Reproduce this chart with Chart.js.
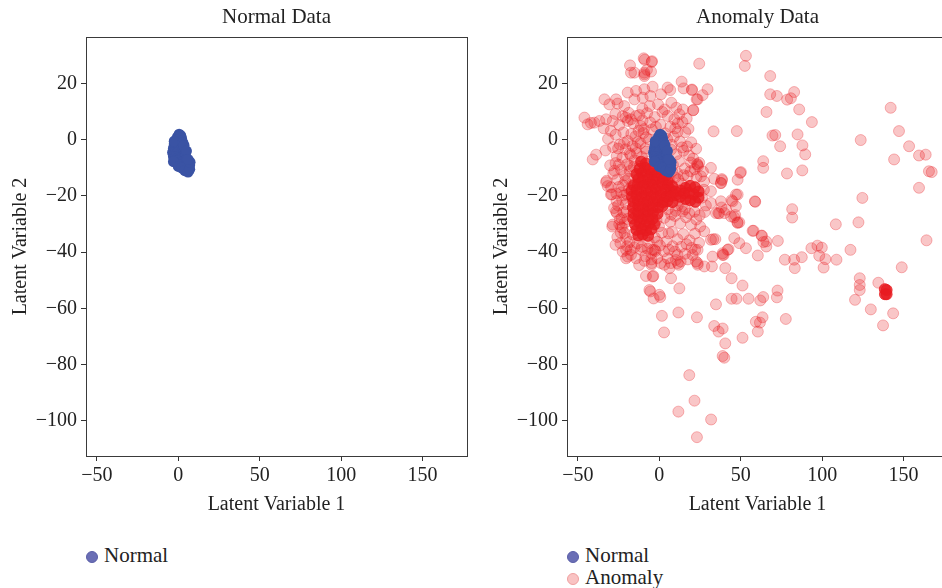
<!DOCTYPE html>
<html>
<head>
<meta charset="utf-8">
<script src="https://cdn.jsdelivr.net/npm/chart.js@4.4.1/dist/chart.umd.min.js"></script>
<style>
  html, body { margin: 0; padding: 0; background: #fff; width: 942px; height: 588px; overflow: hidden; }
  .panel { position: absolute; top: 0; width: 480px; height: 530px; }
  .legend { position: absolute; font-family: "Liberation Serif", "Times New Roman", serif; font-size: 21px; color: #222; }
  .legend div { height: 22px; line-height: 22px; white-space: nowrap; }
  .legend span.dot { display: inline-block; width: 10px; height: 10px; border-radius: 50%; margin-right: 6px; vertical-align: -1px; }
</style>
</head>
<body>
<div class="panel" style="left:0px"><canvas id="chartNormal" width="480" height="530"></canvas></div>
<div class="panel" style="left:481px"><canvas id="chartAnomaly" width="480" height="530"></canvas></div>

<div class="legend" style="left:86px; top:544px">
  <div><span class="dot" style="background:#6a6eb5;border:1px solid #5a5ea8"></span>Normal</div>
</div>
<div class="legend" style="left:567px; top:544px">
  <div><span class="dot" style="background:#6a6eb5;border:1px solid #5a5ea8"></span>Normal</div>
  <div><span class="dot" style="background:#f9c3c3;border:1px solid #f0a0a0"></span>Anomaly</div>
</div>

<script>
// axis ranges and tick labels
const xRange = [-56.7, 177.3];
const yRange = [-112.6, 36.6];
const xTickValues = [-50, 0, 50, 100, 150];
const yTickValues = [-100, -80, -60, -40, -20, 0, 20];

// normal samples (latent space), same cluster in both panels
const normalPoints = [
  [0.5,2],[1.5,1.5],[-0.5,1],[2,0.5],[-1.5,0],[0,0],[1.5,-0.5],[-2.5,-1.5],[-1,-1.5],[0.5,-1.5],
  [2,-2],[-3,-3],[-1.5,-3],[0,-3],[1.5,-3.5],[3,-3.5],[-3.5,-4.5],[-2,-4.5],[-0.5,-4.5],[1,-5],
  [2.5,-5],[4,-5],[-3,-6],[-1.5,-6],[0,-6.5],[1.5,-6.5],[3,-6.5],[4.5,-6],[-2,-7.5],[-0.5,-7.5],
  [1,-8],[2.5,-8],[4,-8],[5.5,-8],[3,-9],[4.5,-9.5],[6,-9.5],[7,-9],[5,-10.5],[6.5,-10.5],[1,-9],
  [-2.5,-0.5],[2.8,-1],[3.5,-2],[5,-4],[5.2,-7],[-3,-7.8],[0,-9.5],[2,-10],[4,-11],[6,-11.5],
  [7,-10.5],[7.2,-8],[6,-7]
];

// anomaly samples, scattered part
const anomalyPoints = [
  [53.2,29.9],[52.5,26.3],[24.5,27.1],[-9.6,29.0],[-9.0,28.5],[-4.5,28.0],[-18,26.5],[-17.4,23.9],[-9.2,23.9],
  [-5.1,24.3],[-9.2,22.7],[-7.6,24.9],[-15.3,23.9],[-4.7,27.7],[-9.2,23.3],
  [68.1,22.7],[68.1,16.2],[72.2,15.6],[82.8,17.0],[78.5,14.3],[80.8,14.8],[85.9,10.8],[93.7,6.3],[65.8,9.9],
  [142.1,11.4],[147.2,3.1],[153.4,-2.3],[123.7,-0.1],[144.2,-7.0],[159.5,-5.6],[163.6,-5.3],[165.6,-11.2],
  [167.3,-11.5],[159.5,-17.1],[124.7,-20.7],[122.3,-29.4],[108.4,-30.1],[164.1,-35.8],
  [33.3,3.0],[47.6,3.1],[69.5,1.5],[71.2,1.7],[84.9,1.9],[87.9,-2.0],[89.6,-5.2],[74.2,-2.3],[63.8,-7.6],
  [63.8,-10.0],[78.4,-12.0],[87.8,-10.9],[50.1,-11.5],
  [58.7,-21.9],[81.6,-24.7],[81.6,-27.7],[47.1,-19.5],[44.4,-21.5],[41.0,-24.9],[36.8,-26.2],[46.6,-26.8],
  [49.1,-29.4],[57.9,-32.4],[63.0,-34.2],[65.7,-36.2],[72.8,-36.0],[65.7,-38.0],[53.2,-38.6],[46.0,-35.0],
  [42.5,-39.0],[39.5,-41.0],[34.4,-35.4],
  [99.8,-38.4],[97.1,-37.7],[102.0,-42.5],[108.8,-42.7],[117.4,-39.2],[87.5,-41.8],[82.8,-42.7],[100.9,-45.5],
  [98.2,-41.3],[93.4,-38.6],[77.1,-42.7],[83.2,-45.7],
  [148.9,-45.4],[123.1,-49.3],[123.1,-51.7],[123.1,-53.5],[134.5,-50.9],[120.2,-57.0],[129.9,-60.4],
  [143.6,-61.8],[137.4,-66.1],
  [72.6,-53.7],[72.2,-56.1],[77.7,-63.8],[63.8,-56.0],[62.0,-57.2],[54.8,-56.6],[47.4,-56.6],[44.4,-56.6],
  [51.1,-51.9],[44.4,-49.3],[40.5,-45.7],[32.3,-45.1],[34.8,-58.6],[63.4,-63.2],[59.3,-64.8],[61.8,-65.1],
  [60.5,-68.3],[51.1,-70.5],[33.7,-66.3],[38.9,-67.2],[36.4,-68.3],[40.5,-72.5],[38.9,-77.0],[39.9,-77.6],
  [23.1,-63.2],[11.7,-61.5],[1.6,-62.7],[2.9,-68.6],[12.3,-52.9],[-5.5,-54.0],[-3.5,-56.5],[0.6,-56.0],
  [-8.2,-48.5],[-3.7,-48.5],[7.2,-49.3],[18.4,-83.8],[21.6,-92.9],[11.7,-96.8],[31.8,-99.6],[23.1,-105.9],
  [60.5,-41.2],[38.9,-41.0],[23.6,-44.5],[11.3,-43.9],[6.2,-45.7],[-6.1,-53.5],[0,-55.2],
  [38.5,-14.4],[37.9,-15.4],[57.3,-32.4],[62.8,-34.1],[63.9,-36.4],[48.1,-29.6],[46.0,-27.6],[33.1,-35.4],
  [29.6,18.0],[26.6,15.9],[22.9,14.4],[20.1,17.9],[20.9,10.6],[49.7,-11.8],[58.9,-22.1],[38.4,-14.0],
  [31.7,-10.0],[23.5,-8.9],[48.0,-29.4],[38.2,-24.1],[36.2,-26.1],
  [31.7,-22.5],[37.8,-21.9],[34.8,-26.1],[39.9,-26.1],[44.0,-27.3],[48.1,-19.5],[45.0,-21.9],[47.0,-23.7],
  [49.1,-36.8],[38.9,-40.4],[41.9,-39.2],[32.7,-41.6],[27.6,-45.1],[31.7,-35.6],[27.6,-32.6],[23.5,-39.2],
  [22.5,-43.3],[33.7,-13.9],[37.8,-15.4],[48.1,-14.2],[31.7,-18.3],
  [13.7,20.7],[14.9,18.3],[20.0,17.7],[23.5,14.4],[5.1,18.6],[6.7,17.7],[1.0,16.2],[-4.1,18.9],
  [-19.4,16.8],[-14.3,17.4],[-9.2,18.0],[-15.3,14.4],[-10.2,15.0],[-5.5,15.6],
  [-33.7,14.4],[-26.6,14.4],[-25.6,12.9],[-30.7,12.6],[-21.5,12.0],
  [-46.0,7.9],[-44.0,5.5],[-39.9,6.1],[-36.8,6.7],[-32.7,7.3],[-28.6,6.7],[-42.0,6.0],
  [-20.5,7.9],[-17.4,7.3],[-14.3,8.5],[-19.4,6.7],
  [-10.4,11.1],[-5.9,12.0],[-0.8,12.6],[3.3,10.8],[7.4,13.2],[10.4,11.4],[14.5,10.8],[20.7,10.5],[5.1,8.5],
  [9.2,7.3],[12.3,9.1],[-38.8,-5.3],[-40.9,-7.0],
  [-27,9.2],[-22.5,8.4],[-18.8,9.6],[-12.2,8.8],[-7.5,9.5],[-2.8,8.1],[1.9,9.9],[16.8,7.6],[-24.6,5.3],
  [-15.9,5.8],[-11.3,4.9],[-5.6,6.2],[0.7,5.4],[6.8,4.6],[11.4,5.9],[17.9,3.9],[-34.2,4.1],[-29.8,3.2],
  [-31.5,0.3],[-26.8,1.8],[-22.1,2.6],[-19.4,-0.4],[-14.7,1.2],[-9.8,2.4],[-6.3,0.1],[3.6,2.3],[8.9,1.1],
  [12.7,-0.6],[15.9,2.7],[19.6,-0.9],[-24.3,-1.7],[-11.6,-1.2],
  [-33.1,-3.8],[-28.4,-2.6],[-20.8,-3.4],[-16.5,-2.2],[-13.9,-4.7],[-8.6,-3.1],[7.2,-3.5],[10.5,-5.2],
  [14.8,-3.9],[18.3,-5.6],[-26.2,-5.8],[-22.7,-6.4],[-17.6,-5.5],[-10.7,-6.1],[22.6,-3.2],
  [-30.2,-9.1],[-26.9,-8.3],[-23.5,-10.6],[-19.8,-8.7],[-15.6,-9.6],[8.4,-8.9],[12.1,-7.6],[15.7,-10.2],
  [19.4,-8.1],[23.2,-8.6],[23.8,-9.4],[24.5,-8.2],[26.8,-11.3],[-28.3,-12.1],[-21.2,-12.6],[10.9,-11.8],[17.3,-12.9],
  [-32.4,-14.6],[-25.7,-14.1],[-22.3,-16.2],[-18.9,-13.8],[-16.6,-15.9],[6.3,-14.7],[9.8,-13.4],[13.6,-15.6],
  [22.9,-13.2],[27.5,-14.8],[-29.6,-16.9],[-13.5,-12.9],[-32.7,-15.1],[-31.7,-16.5],[-29.7,-19.5],
  [-29.1,-19.4],[-26.3,-21.8],[-23.4,-18.7],[-20.6,-22.9],[-21.8,-19.8],[8.7,-19.1],[11.9,-21.6],[13.8,-23.7],
  [27.4,-17.8],[28.6,-23.4],[-27.8,-24.3],[5.2,-24.8],[10.1,-25.3],[-26.6,-25.5],
  [-26.1,-26.1],[-23.2,-27.9],[-20.1,-25.4],[-28.9,-30.9],[-24.6,-30.1],[-22.6,-31.4],[-23.5,-31.1],[3.1,-27.8],
  [6.8,-29.2],[9.6,-27.1],[12.8,-29.8],[16.4,-27.6],[19.5,-30.3],[22.7,-28.4],[25.1,-30.9],[14.2,-25.6],[-28.6,-30.2],
  [-25.8,-34.6],[-21.4,-33.2],[-18.3,-36.4],[-2.8,-34.8],[1.6,-33.1],[4.3,-36.2],[7.9,-32.8],[11.2,-35.4],
  [14.7,-33.6],[18.6,-35.8],[21.9,-33.4],[24.4,-36.7],[-19.8,-37.9],[-15.3,-38.3],[0.4,-37.6],[8.2,-37.9],
  [-22.5,-39.8],[-19.4,-41.6],[-14.3,-42.2],[-20.4,-42.2],[-11.2,-39.2],[-4.9,-40.4],[-4.9,-42.6],[-4.9,-44.5],
  [-2.9,-39.2],[-2.4,-39.6],[1.0,-43.9],[3.1,-44.5],[5.1,-42.2],[7.2,-43.9],[10.2,-42.8],[11.2,-41.0],
  [11.9,-44.5],[20.4,-41.0],[22.0,-39.2],[23.5,-43.9],[-17.4,-41.0],[-8.6,-41.4],[15.8,-40.6],[-7.2,-38.8],
  [-20.4,-39.2],[-4.1,-39.2],[-4.7,-43.9],[-4.1,-48.7],
  [-17.2,2.1],[-13.1,-0.8],[-7.9,-4.2],[-15.2,-7.3],[-11.8,-9.4],[-18.1,-11.1],[-9.4,3.8],[5.3,-7.1],
  [6.1,-10.6],[3.9,-20.3],[-1.7,-28.6],[-16.4,-33.7],[-0.2,-30.8],[5.7,-33.3],[-19.7,-28.2],[-18.5,-17.6],
  [-25.3,-3.1],[-21.7,-1.2],[-18.2,-4.9],[-14.4,-3.0],[-12.7,3.2],[-8.1,0.9],[-4.6,3.7],[4.8,0.3],
  [7.6,-1.8],[11.2,2.8],[13.9,-2.7],[17.1,-2.4],[20.8,-6.7],[-27.6,-11.0],[-24.8,-8.9],[-20.9,-14.7],
  [-18.0,-9.4],[7.9,-11.3],[11.6,-14.1],[14.9,-12.6],[19.1,-11.2],[21.7,-10.5],[25.6,-13.0],[-24.9,-16.8],
  [-26.4,-19.1],[-22.8,-21.4],[-19.8,-19.5],[26.2,-20.6],[27.9,-25.7],[-25.3,-23.4],[-22.1,-25.8],[-24.3,-28.4],
  [-21.3,-29.5],[11.3,-23.4],[15.7,-24.7],[18.4,-26.2],[21.6,-25.6],[24.8,-26.9],[7.3,-26.6],[-23.7,-33.1],
  [-20.4,-35.0],[-17.6,-39.3],[-13.6,-36.9],[-10.8,-38.1],[-6.4,-36.7],[-1.2,-36.3],[2.7,-39.7],[5.9,-39.1],
  [9.5,-39.8],[13.4,-38.1],[16.7,-37.2],[19.9,-38.5],[13.1,-43.4],[-12.4,-44.6],[-9.1,-43.1],[-1.3,-42.1],
  [17.5,-42.6],[-26.9,-37.4],[-23.9,-36.8],[-10.3,6.9],[-2.1,4.6],[9.8,4.1],[14.2,6.3]
];

// anomaly samples, saturated core (heavily overlapping points)
const anomalyCorePoints = [
  [-11.2,-7.8],[-8.3,-8.4],
  [-12.1,-10.4],[-8.8,-9.9],[-6.2,-10.6],[-3.1,-10.8],
  [-14.1,-12.2],[-10.8,-11.9],[-8.2,-12.4],[-4.9,-12.1],[-2.2,-12.6],[1.1,-12.3],[3.8,-12.9],
  [-12.8,-13.8],[-10.2,-14.3],[-7.1,-14.0],[-3.9,-14.4],[-1.2,-13.9],[2.1,-14.2],[5.2,-14.6],
  [-15.8,-16.2],[-13.1,-15.8],[-9.9,-16.3],[-6.8,-15.9],[-4.2,-16.1],[-0.9,-16.4],[1.8,-15.8],[5.1,-16.2],[7.9,-16.5],
  [-17.1,-18.1],[-13.9,-17.8],[-11.2,-18.3],[-7.8,-17.9],[-5.1,-18.2],[-2.1,-17.7],[1.2,-18.3],[3.9,-18.0],[7.1,-17.8],[9.8,-18.4],[13.2,-18.1],
  [-16.8,-20.2],[-14.1,-19.8],[-10.9,-20.3],[-8.2,-19.9],[-4.8,-20.1],[-1.9,-20.4],[0.8,-19.8],[4.2,-20.2],[6.9,-20.1],[10.2,-19.7],[12.8,-20.3],
  [-15.9,-22.1],[-13.2,-21.8],[-9.8,-22.3],[-7.1,-21.9],[-3.8,-22.2],[-1.2,-21.8],[2.1,-22.3],[4.9,-21.9],[8.1,-22.2],
  [-16.2,-24.1],[-12.9,-23.8],[-10.1,-24.3],[-6.8,-23.9],[-4.1,-24.2],[-0.8,-24.1],[1.9,-23.7],
  [-15.8,-26.2],[-13.1,-25.9],[-9.9,-26.3],[-7.2,-25.8],[-3.9,-26.1],[-1.1,-26.4],
  [-16.1,-28.1],[-12.8,-27.8],[-10.2,-28.3],[-6.9,-27.9],[-4.1,-28.2],
  [-14.9,-30.2],[-12.1,-29.8],[-8.8,-30.3],[-6.1,-29.9],[-2.9,-30.1],
  [-14.1,-32.1],[-10.8,-31.8],[-8.1,-32.3],[-4.9,-31.9],
  [-12.9,-34.1],[-10.2,-33.8],[-6.9,-34.2],
  [16.1,-17.1],[18.9,-16.4],[21.8,-16.9],[24.2,-18.4],[15.2,-19.1],[18.1,-18.9],[21.2,-19.4],[24.1,-20.6],
  [16.2,-21.1],[19.1,-21.6],[22.1,-22.1],
  [138.5,-53.2],[139.6,-53.5],[138.6,-55],[139.6,-55]
];

function toXY(list) {
  return list.map(p => ({ x: p[0], y: p[1] }));
}

function fmtTick(v) {
  return String(v).replace('-', '\u2212');
}

const serif = "'Liberation Serif', 'Times New Roman', serif";

// draws the box round the plot area
const frame = {
  id: 'frame',
  afterDraw(chart) {
    const a = chart.chartArea;
    const ctx = chart.ctx;
    ctx.save();
    ctx.strokeStyle = '#3a3a3a';
    ctx.lineWidth = 1;
    ctx.strokeRect(Math.round(a.left) + 0.5, Math.round(a.top) + 0.5,
                   Math.round(a.right - a.left), Math.round(a.bottom - a.top));
    ctx.restore();
  }
};

function makeOptions(title) {
  return {
    responsive: false,
    animation: false,
    events: [],
    layout: { padding: { left: 0, right: 13, top: 0, bottom: 0 } },
    plugins: {
      legend: { display: false },
      tooltip: { enabled: false }
    },
    scales: {
      // top axis only carries the panel title, centred over the plot area
      top: {
        type: 'linear',
        position: 'top',
        min: xRange[0],
        max: xRange[1],
        afterFit: axis => { axis.height = 37; },
        grid: { display: false },
        border: { display: false },
        ticks: { display: false },
        title: { display: true, text: title, color: '#222',
                 font: { family: serif, size: 21 }, padding: { top: 5, bottom: 0 } }
      },
      x: {
        type: 'linear',
        min: xRange[0],
        max: xRange[1],
        afterBuildTicks: axis => { axis.ticks = xTickValues.map(v => ({ value: v })); },
        afterFit: axis => { axis.height = 74; },
        grid: { drawOnChartArea: false, drawTicks: true, tickLength: 5, color: '#333' },
        border: { display: false },
        ticks: { color: '#222', padding: 3, maxRotation: 0, font: { family: serif, size: 20 }, callback: fmtTick },
        title: { display: true, text: 'Latent Variable 1', color: '#222',
                 font: { family: serif, size: 20 }, padding: { top: 0, bottom: 13 } }
      },
      y: {
        type: 'linear',
        min: yRange[0],
        max: yRange[1],
        afterBuildTicks: axis => { axis.ticks = yTickValues.map(v => ({ value: v })); },
        afterFit: axis => { axis.width = 86; },
        grid: { drawOnChartArea: false, drawTicks: true, tickLength: 5, color: '#333' },
        border: { display: false },
        ticks: { color: '#222', padding: 4, font: { family: serif, size: 20 }, callback: fmtTick },
        title: { display: true, text: 'Latent Variable 2', color: '#222',
                 font: { family: serif, size: 20 }, padding: { top: 9, bottom: 0 } }
      }
    }
  };
}

const normalStyle = {
  label: 'Normal',
  backgroundColor: 'rgba(58, 83, 164, 1)',
  borderColor: 'rgba(58, 83, 164, 1)',
  borderWidth: 0,
  pointRadius: 5.5
};

new Chart(document.getElementById('chartNormal'), {
  type: 'scatter',
  data: {
    datasets: [
      Object.assign({ data: toXY(normalPoints) }, normalStyle)
    ]
  },
  options: makeOptions('Normal Data'),
  plugins: [frame]
});

new Chart(document.getElementById('chartAnomaly'), {
  type: 'scatter',
  data: {
    datasets: [
      Object.assign({ data: toXY(normalPoints) }, normalStyle),
      {
        label: 'Anomaly',
        data: toXY(anomalyCorePoints),
        backgroundColor: 'rgba(232, 28, 32, 0.8)',
        borderColor: 'rgba(232, 28, 32, 0.8)',
        borderWidth: 1,
        pointRadius: 5.5
      },
      {
        label: 'Anomaly',
        data: toXY(anomalyPoints),
        backgroundColor: 'rgba(232, 28, 32, 0.25)',
        borderColor: 'rgba(232, 28, 32, 0.3)',
        borderWidth: 1,
        pointRadius: 5.5
      }
    ]
  },
  options: makeOptions('Anomaly Data'),
  plugins: [frame]
});
</script>
</body>
</html>
